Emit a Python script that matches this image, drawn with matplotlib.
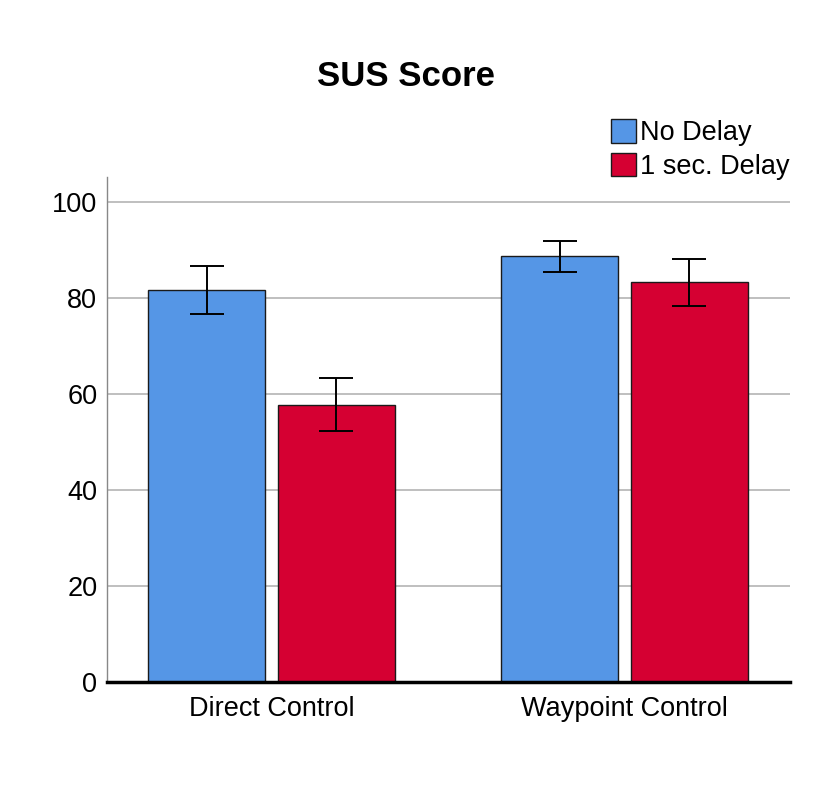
import numpy as np
import matplotlib.pyplot as plt

plt.rcParams['font.family'] = ['Liberation Sans', 'DejaVu Sans']

groups = ['Direct Control', 'Waypoint Control']
conditions = ['No Delay', '1 sec. Delay']
means = {
    'No Delay': [81.5, 88.6],
    '1 sec. Delay': [57.6, 83.2],
}
err_low = {
    'No Delay': [76.5, 85.4],
    '1 sec. Delay': [52.2, 78.3],
}
err_high = {
    'No Delay': [86.6, 91.8],
    '1 sec. Delay': [63.3, 88.0],
}
colors = {'No Delay': '#5596e6', '1 sec. Delay': '#d50032'}

fig = plt.figure(figsize=(8.31, 8.06), dpi=100)
ax = fig.add_axes([0.1288, 0.1538, 0.8219, 0.6266])

x = np.arange(len(groups))
width = 0.331
offsets = [-0.184, 0.184]

handles = []
for cond, off in zip(conditions, offsets):
    m = np.array(means[cond])
    lo = m - np.array(err_low[cond])
    hi = np.array(err_high[cond]) - m
    b = ax.bar(x + off, m, width, color=colors[cond], edgecolor='#1a1a1a',
               linewidth=1.0, zorder=3, label=cond)
    ax.errorbar(x + off, m, yerr=[lo, hi], fmt='none', ecolor='black',
                elinewidth=1.4, capsize=12, capthick=1.4, zorder=4)
    handles.append(b)

ax.set_xlim(-0.466, 1.469)
ax.set_ylim(0, 105.1)
ax.set_yticks([0, 20, 40, 60, 80, 100])
ax.set_xticks(x)
ax.set_xticklabels(groups)
ax.tick_params(axis='both', length=0, labelsize=19.5)
ax.tick_params(axis='x', pad=10)
ax.tick_params(axis='y', pad=7)
ax.yaxis.grid(True, color='#b4b4b4', linewidth=1.2, zorder=0)
ax.set_axisbelow(True)

for s in ['top', 'right']:
    ax.spines[s].set_visible(False)
ax.spines['left'].set_color('#888888')
ax.spines['left'].set_linewidth(1.0)
ax.spines['bottom'].set_color('black')
ax.spines['bottom'].set_linewidth(2.5)
ax.spines['bottom'].set_zorder(5)

fig.text(406 / 831, 1 - 76 / 806, 'SUS Score', ha='center', va='center',
         fontsize=25, fontweight='bold')

fig.legend(handles=handles, labels=conditions, loc='upper left',
           bbox_to_anchor=(611 / 831, 1 - 119 / 806), frameon=False,
           fontsize=19.5, handlelength=0.93, handleheight=0.96,
           handletextpad=0.15, borderpad=0, borderaxespad=0,
           labelspacing=0.25)

fig.savefig('out.png', dpi=100)
